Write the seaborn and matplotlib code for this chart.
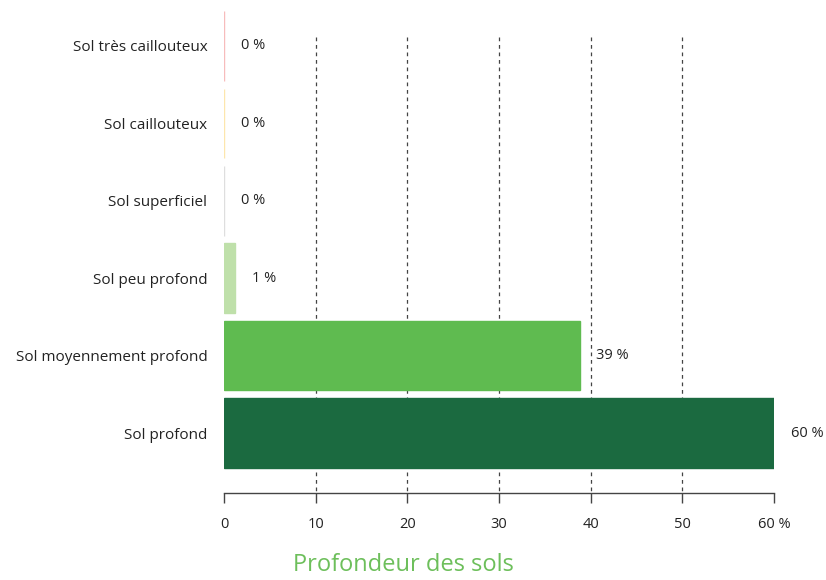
import pandas as pd
import matplotlib.pyplot as plt
import seaborn as sns

# Data
categories = ['Sol très caillouteux', 'Sol caillouteux', 'Sol superficiel',
              'Sol peu profond', 'Sol moyennement profond', 'Sol profond']
values = [0, 0, 0, 1.2, 38.8, 60]
labels = ['0 %', '0 %', '0 %', '1 %', '39 %', '60 %']
xticks = [0, 10, 20, 30, 40, 50, 60]
xticklabels = ['0', '10', '20', '30', '40', '50', '60 %']

colors = ['#f7bcbc', '#fde6ad', '#dedede', '#bfe0aa', '#5fbb50', '#1b6a40']

df = pd.DataFrame({'cat': categories, 'val': values})

sns.set_style('white')
plt.rcParams['font.family'] = ['Open Sans', 'DejaVu Sans']

fig = plt.figure(figsize=(8.26, 5.8), dpi=100)
ax = fig.add_axes([224 / 826, 0.15, 550 / 826, 0.85])

sns.barplot(data=df, x='val', y='cat', hue='cat', palette=colors, legend=False,
            width=0.9, orient='h', ax=ax, linewidth=1, saturation=1)
for bar, c in zip(ax.patches, colors):
    bar.set_edgecolor(c)

ax.set_xlim(0, 60)
ax.set_ylim(5.775, -0.594)

# dashed grid lines
ax.vlines(xticks[1:-1], -0.12, 5.775, colors='#444444', linestyles=(0, (3, 3)),
          linewidth=0.9, zorder=0)

for cont, lab in zip(ax.containers, labels):
    ax.bar_label(cont, labels=[lab], padding=12, fontsize=10.5, color='#222222')

ax.set_xticks(xticks)
ax.set_xticklabels(xticklabels)
ax.tick_params(axis='x', length=7, width=1, color='#444444', pad=10,
               labelsize=10.5, labelcolor='#222222', bottom=True)
ax.tick_params(axis='y', length=0, pad=12, labelsize=11, labelcolor='#222222')
ax.set_xlabel('')
ax.set_ylabel('')

for s in ['top', 'right', 'left']:
    ax.spines[s].set_visible(False)
ax.spines['bottom'].set_color('#444444')
ax.spines['bottom'].set_linewidth(1)

fig.text(403 / 826, 1 - 565 / 580, 'Profondeur des sols', ha='center', va='center',
         fontsize=17, color='#6dbf5b')

plt.savefig('out.png', dpi=100)
